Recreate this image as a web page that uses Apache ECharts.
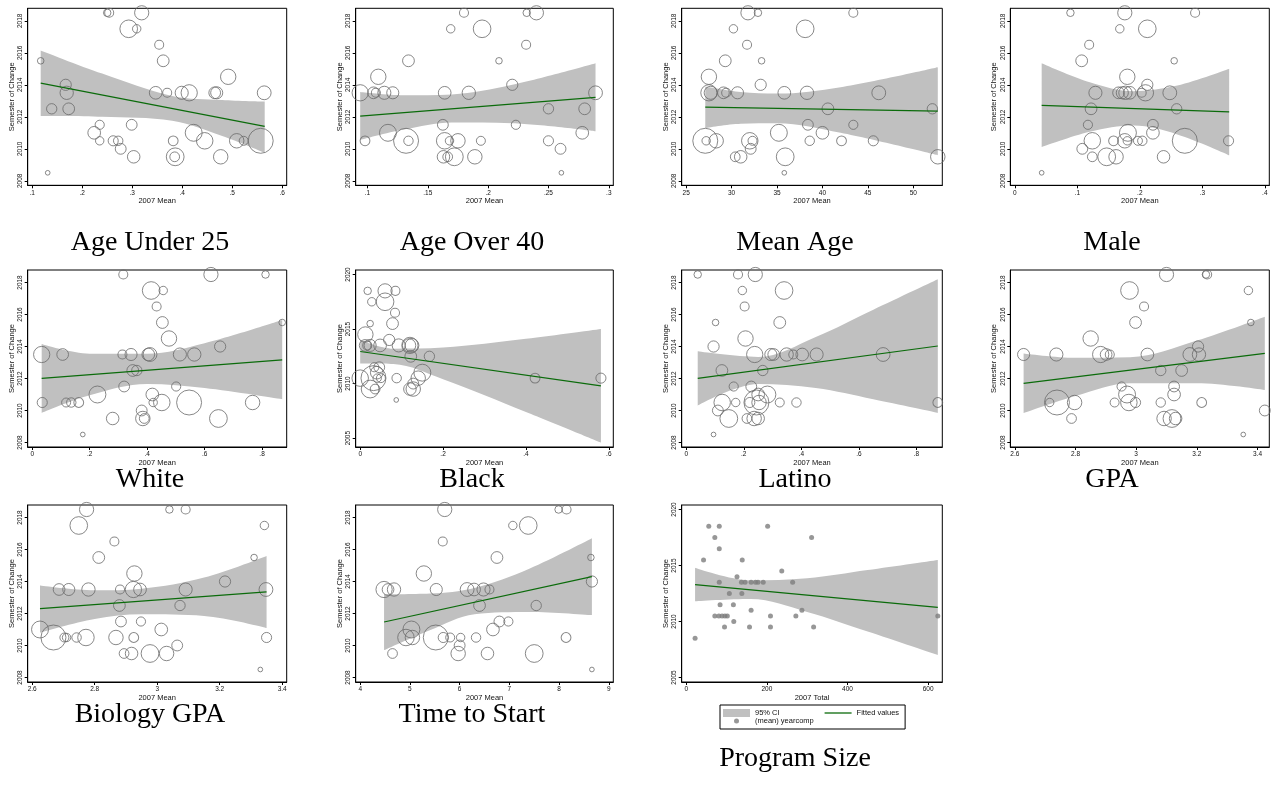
<!DOCTYPE html>
<html>
<head>
<meta charset="utf-8">
<title>Semester of Change</title>
<script src="https://cdn.jsdelivr.net/npm/echarts@6.0.0/dist/echarts.min.js"></script>
<style>
  html, body { margin: 0; padding: 0; background: #fff; }
  #chart { width: 1277px; height: 785px; }
</style>
</head>
<body>
<div id="chart"></div>
<script>
// one entry per program: semester of change and 2007 total (used as weight)
const yearcomp = [2018.5, 2018.5, 2018.5, 2017.5, 2017.5, 2016.5, 2015.5, 2015.5, 2014.5, 2014,
  2013.5, 2013.5, 2013.5, 2013.5, 2013.5, 2013.5, 2013.5, 2013.5, 2012.5, 2012.5,
  2011.5, 2011.5, 2011, 2011, 2010.5, 2010.5, 2010.5, 2010.5, 2010.5, 2010.5,
  2010.5, 2010.5, 2010, 2009.5, 2009.5, 2009.5, 2009.5, 2008.5];
const total = [56, 82, 202, 71, 311, 82, 43, 139, 237, 126,
  82, 137, 146, 161, 172, 178, 191, 264, 107, 138,
  84, 117, 161, 287, 71, 81, 89, 96, 102, 209,
  272, 624, 118, 95, 157, 209, 316, 22];

// 2007 means, same program order
const xAgeUnder25 = [0.250, 0.254, 0.319, 0.309, 0.293, 0.354, 0.117, 0.362, 0.492, 0.167,
  0.370, 0.465, 0.469, 0.347, 0.399, 0.169, 0.564, 0.414, 0.139, 0.173,
  0.235, 0.299, 0.224, 0.423, 0.235, 0.523, 0.272, 0.382, 0.262, 0.509,
  0.445, 0.557, 0.277, 0.385, 0.303, 0.477, 0.386, 0.131];
const xAgeOver40 = [0.232, 0.180, 0.240, 0.169, 0.195, 0.2315, 0.209, 0.134, 0.109, 0.220,
  0.107, 0.105, 0.121, 0.164, 0.114, 0.184, 0.289, 0.094, 0.250, 0.280,
  0.223, 0.1625, 0.278, 0.117, 0.168, 0.194, 0.134, 0.098, 0.250, 0.175,
  0.164, 0.132, 0.260, 0.1665, 0.163, 0.189, 0.172, 0.2607];
const xMeanAge = [32.9, 43.4, 31.8, 30.2, 38.1, 31.7, 33.3, 29.3, 27.5, 33.2,
  29.4, 29.1, 30.65, 35.8, 27.7, 38.3, 46.2, 27.5, 52.1, 40.6,
  43.4, 38.4, 40.0, 35.2, 27.2, 32.3, 38.6, 42.1, 45.6, 28.3,
  32.0, 27.1, 32.1, 30.4, 31.0, 52.7, 35.9, 35.8];
const xMale = [0.089, 0.2885, 0.176, 0.168, 0.212, 0.119, 0.255, 0.107, 0.180, 0.212,
  0.203, 0.166, 0.172, 0.184, 0.129, 0.177, 0.248, 0.209, 0.259, 0.122,
  0.117, 0.221, 0.221, 0.181, 0.180, 0.197, 0.204, 0.158, 0.342, 0.176,
  0.124, 0.272, 0.108, 0.124, 0.238, 0.162, 0.147, 0.043];
const xWhite = [0.812, 0.317, 0.622, 0.456, 0.414, 0.433, 0.870, 0.453, 0.476, 0.654,
  0.314, 0.106, 0.344, 0.404, 0.514, 0.564, 0.410, 0.033, 0.364, 0.350,
  0.501, 0.320, 0.418, 0.227, 0.421, 0.118, 0.136, 0.162, 0.035, 0.767,
  0.451, 0.546, 0.381, 0.390, 0.280, 0.385, 0.648, 0.176];
const xBlack = [0.018, 0.085, 0.060, 0.028, 0.060, 0.084, 0.024, 0.078, 0.0125, 0.070,
  0.017, 0.012, 0.024, 0.048, 0.093, 0.118, 0.125, 0.120, 0.167, 0.122,
  0.034, 0.046, 0.040, 0.150, 0.041, 0.050, 0.088, 0.422, 0.581, 0.140,
  0.0, 0.032, 0.128, 0.036, 0.120, 0.128, 0.024, 0.087];
const xLatino = [0.040, 0.180, 0.240, 0.195, 0.340, 0.203, 0.102, 0.325, 0.206, 0.095,
  0.372, 0.304, 0.294, 0.403, 0.453, 0.349, 0.684, 0.238, 0.266, 0.124,
  0.165, 0.226, 0.250, 0.282, 0.172, 0.325, 0.383, 0.874, 0.221, 0.253,
  0.125, 0.244, 0.110, 0.211, 0.250, 0.236, 0.148, 0.095];
const xGPA = [3.230, 3.234, 3.100, 3.370, 2.978, 3.026, 3.378, 2.998, 2.850, 3.204,
  2.913, 2.901, 2.629, 3.037, 2.737, 3.207, 3.177, 2.883, 3.081, 3.150,
  2.952, 3.125, 3.125, 2.970, 2.715, 2.929, 3.081, 3.216, 2.998, 2.797,
  2.976, 2.739, 3.424, 2.787, 3.130, 3.092, 3.118, 3.353];
const xBioGPA = [3.039, 3.091, 2.774, 3.343, 2.749, 2.863, 3.310, 2.813, 2.927, 3.217,
  2.881, 2.686, 2.717, 2.945, 3.091, 2.780, 3.348, 2.924, 3.073, 2.879,
  2.948, 2.884, 3.013, 2.625, 2.710, 2.703, 2.742, 2.925, 3.350, 2.868,
  2.772, 2.668, 3.064, 2.894, 2.918, 3.030, 2.977, 3.330];
const xTimeToStart = [7.99, 8.15, 5.70, 7.07, 7.38, 5.66, 8.64, 6.75, 5.28, 8.66,
  6.60, 4.56, 5.53, 6.29, 6.48, 4.68, 6.15, 4.48, 7.54, 6.40,
  6.98, 6.80, 6.67, 5.03, 6.02, 5.81, 6.33, 8.14, 5.67, 5.05,
  4.92, 5.52, 6.00, 4.65, 6.56, 5.97, 7.50, 8.66];

// 95% CI band, read at a few points: [x, lower, upper]
const ciAgeUnder25 = [[0.117, 2012.05, 2016.15], [0.24, 2012.0, 2014.7], [0.38, 2011.75, 2013.3], [0.48, 2010.8, 2013.05], [0.565, 2009.75, 2012.95]];
const ciAgeOver40 = [[0.094, 2010.55, 2013.55], [0.13, 2011.2, 2013.35], [0.17, 2011.65, 2013.4], [0.22, 2011.6, 2014.0], [0.289, 2011.1, 2015.35]];
const ciMeanAge = [[27.1, 2011.3, 2013.9], [31, 2011.57, 2013.55], [35, 2011.6, 2013.45], [42, 2011.0, 2013.85], [52.7, 2009.6, 2015.1]];
const ciMale = [[0.043, 2010.1, 2015.35], [0.12, 2011.06, 2014.16], [0.19, 2011.45, 2013.6], [0.26, 2010.9, 2013.95], [0.343, 2009.6, 2015.0]];
const ciWhite = [[0.033, 2009.85, 2014.15], [0.2, 2010.95, 2013.55], [0.4, 2011.65, 2013.55], [0.6, 2011.4, 2014.2], [0.87, 2010.7, 2015.65]];
const ciBlack = [[0, 2011.85, 2014.0], [0.08, 2011.8, 2013.2], [0.2, 2010.4, 2013.3], [0.4, 2007.4, 2014.1], [0.581, 2004.6, 2015.0]];
const ciLatino = [[0.04, 2010.3, 2013.7], [0.25, 2011.65, 2013.35], [0.45, 2011.4, 2014.6], [0.65, 2010.7, 2016.3], [0.874, 2009.85, 2018.2]];
const ciGPA = [[2.629, 2009.83, 2013.57], [2.8, 2010.9, 2013.3], [2.98, 2011.7, 2013.33], [3.2, 2011.7, 2014.37], [3.424, 2011.28, 2015.86]];
const ciBioGPA = [[2.625, 2010.8, 2013.75], [2.8, 2011.65, 2013.45], [2.95, 2011.95, 2013.55], [3.15, 2011.85, 2014.25], [3.35, 2011.1, 2015.6]];
const ciTimeToStart = [[4.48, 2009.7, 2013.2], [5.4, 2010.95, 2013.25], [6.3, 2011.95, 2013.6], [7.4, 2012.1, 2014.8], [8.66, 2011.9, 2016.7]];
const ciProgramSize = [[22, 2011.8, 2014.8], [160, 2012.0, 2013.68], [300, 2010.85, 2013.87], [450, 2009.1, 2014.6], [624, 2007.0, 2015.5]];

// fitted values, end points
const fitAgeUnder25 = [[0.117, 2014.1], [0.565, 2011.4]];
const fitAgeOver40 = [[0.094, 2012.04], [0.289, 2013.22]];
const fitMeanAge = [[27.1, 2012.6], [52.7, 2012.35]];
const fitMale = [[0.043, 2012.72], [0.343, 2012.31]];
const fitWhite = [[0.033, 2012.01], [0.87, 2013.16]];
const fitBlack = [[0, 2012.94], [0.581, 2009.79]];
const fitLatino = [[0.04, 2012.01], [0.874, 2014.03]];
const fitGPA = [[2.629, 2011.7], [3.424, 2013.57]];
const fitBioGPA = [[2.625, 2012.3], [3.35, 2013.35]];
const fitTimeToStart = [[4.48, 2011.47], [8.66, 2014.31]];
const fitProgramSize = [[22, 2013.3], [624, 2011.26]];

// tick labels
const ticksAgeUnder25 = [0.1, 0.2, 0.3, 0.4, 0.5, 0.6];
const ticksAgeOver40 = [0.1, 0.15, 0.2, 0.25, 0.3];
const ticksMeanAge = [25, 30, 35, 40, 45, 50];
const ticksMale = [0, 0.1, 0.2, 0.3, 0.4];
const ticksShare = [0, 0.2, 0.4, 0.6, 0.8];
const ticksBlack = [0, 0.2, 0.4, 0.6];
const ticksGPA = [2.6, 2.8, 3, 3.2, 3.4];
const ticksTime = [4, 5, 6, 7, 8, 9];
const ticksSize = [0, 200, 400, 600];
const ticksSemester = [2008, 2010, 2012, 2014, 2016, 2018];
const ticksSemesterWide = [2005, 2010, 2015, 2020];

const panels = [
  { title: 'Age Under 25', x: xAgeUnder25, ci: ciAgeUnder25, fit: fitAgeUnder25, xt: ticksAgeUnder25, yt: ticksSemester, col: 0, row: 0 },
  { title: 'Age Over 40', x: xAgeOver40, ci: ciAgeOver40, fit: fitAgeOver40, xt: ticksAgeOver40, yt: ticksSemester, col: 1, row: 0 },
  { title: 'Mean Age', x: xMeanAge, ci: ciMeanAge, fit: fitMeanAge, xt: ticksMeanAge, yt: ticksSemester, col: 2, row: 0 },
  { title: 'Male', x: xMale, ci: ciMale, fit: fitMale, xt: ticksMale, yt: ticksSemester, col: 3, row: 0 },
  { title: 'White', x: xWhite, ci: ciWhite, fit: fitWhite, xt: ticksShare, yt: ticksSemester, col: 0, row: 1 },
  { title: 'Black', x: xBlack, ci: ciBlack, fit: fitBlack, xt: ticksBlack, yt: ticksSemesterWide, col: 1, row: 1 },
  { title: 'Latino', x: xLatino, ci: ciLatino, fit: fitLatino, xt: ticksShare, yt: ticksSemester, col: 2, row: 1 },
  { title: 'GPA', x: xGPA, ci: ciGPA, fit: fitGPA, xt: ticksGPA, yt: ticksSemester, col: 3, row: 1 },
  { title: 'Biology GPA', x: xBioGPA, ci: ciBioGPA, fit: fitBioGPA, xt: ticksGPA, yt: ticksSemester, col: 0, row: 2 },
  { title: 'Time to Start', x: xTimeToStart, ci: ciTimeToStart, fit: fitTimeToStart, xt: ticksTime, yt: ticksSemester, col: 1, row: 2 },
  { title: 'Program Size', x: total, ci: ciProgramSize, fit: fitProgramSize, xt: ticksSize, yt: ticksSemesterWide, col: 2, row: 2, plain: true, xname: '2007 Total' }
];

// layout (px)
const colX = [27.7, 355.7, 681.7, 1010.3];
const colW = [259, 257.6, 260.6, 259];
const rowY = [8.3, 270, 505];
const boxH = 177;
const capX = [150, 472, 795, 1112];
const capY = [245, 482, 717];
const PAD = 4.5;

const sans = 'Liberation Sans, Arial, Helvetica, sans-serif';
const fmtX = v => String(+(+v).toFixed(4)).replace(/^0\./, '.');
const fmtY = v => String(v);

const grid = [], xAxis = [], yAxis = [], series = [], title = [];

panels.forEach((p, i) => {
  const L = colX[p.col], T = rowY[p.row], W = colW[p.col], H = boxH;
  const xlo = Math.min(p.xt[0], ...p.x, p.ci[0][0]);
  const xhi = Math.max(p.xt[p.xt.length - 1], ...p.x, p.ci[p.ci.length - 1][0]);
  const ylo = Math.min(p.yt[0], ...yearcomp, ...p.ci.map(d => d[1]));
  const yhi = Math.max(p.yt[p.yt.length - 1], ...yearcomp, ...p.ci.map(d => d[2]));
  const xp = PAD * (xhi - xlo) / (W - 2 * PAD);
  const yp = PAD * (yhi - ylo) / (H - 2 * PAD);

  grid.push({ left: L, top: T, width: W, height: H, show: true, borderColor: '#000', borderWidth: 1, backgroundColor: 'transparent' });

  xAxis.push({
    gridIndex: i, type: 'value', min: xlo - xp, max: xhi + xp,
    axisLine: { show: true, onZero: false, lineStyle: { color: '#000', width: 1 } },
    axisTick: { show: true, length: 3, customValues: p.xt, lineStyle: { color: '#000' } },
    axisLabel: { customValues: p.xt, formatter: fmtX, fontSize: 6.5, margin: 4, color: '#111', fontFamily: sans },
    splitLine: { show: false },
    name: p.xname || '2007 Mean', nameLocation: 'middle', nameGap: 12,
    nameTextStyle: { fontSize: 7.5, color: '#111', fontFamily: sans }
  });
  yAxis.push({
    gridIndex: i, type: 'value', min: ylo - yp, max: yhi + yp,
    axisLine: { show: true, onZero: false, lineStyle: { color: '#000', width: 1 } },
    axisTick: { show: true, length: 3, customValues: p.yt, lineStyle: { color: '#000' } },
    axisLabel: { customValues: p.yt, formatter: fmtY, rotate: 90, fontSize: 6.5, margin: 4, color: '#111', fontFamily: sans },
    splitLine: { show: false },
    name: 'Semester of Change', nameLocation: 'middle', nameGap: 12, nameRotate: 90,
    nameTextStyle: { fontSize: 7.5, color: '#111', fontFamily: sans }
  });

  const tag = p.plain ? '' : ' ' + i;
  // CI band: invisible lower bound, then the band height stacked on it
  // (values put first so the stack runs along y)
  series.push({
    type: 'line', name: 'lower' + i, xAxisIndex: i, yAxisIndex: i,
    data: p.ci.map(d => [d[1], d[0]]), encode: { x: 1, y: 0 }, stack: 'ci' + i,
    symbol: 'none', smooth: 0.35, lineStyle: { width: 0, opacity: 0 }, z: 1, silent: true
  });
  series.push({
    type: 'line', name: '95% CI' + tag, xAxisIndex: i, yAxisIndex: i,
    data: p.ci.map(d => [d[2] - d[1], d[0]]), encode: { x: 1, y: 0 }, stack: 'ci' + i,
    symbol: 'none', smooth: 0.35, lineStyle: { width: 0, opacity: 0 }, itemStyle: { color: '#c0c0c0' },
    areaStyle: { color: '#c0c0c0', opacity: 1 }, z: 1, silent: true
  });
  series.push({
    type: 'line', name: 'Fitted values' + tag, xAxisIndex: i, yAxisIndex: i,
    data: p.fit, symbol: 'none', lineStyle: { color: '#0b6b0b', width: 1.2 },
    itemStyle: { color: '#0b6b0b' }, z: 4, silent: true
  });
  series.push({
    type: 'scatter', name: '(mean) yearcomp' + tag, xAxisIndex: i, yAxisIndex: i,
    data: yearcomp.map((y, k) => [p.x[k], y, total[k]]),
    symbolSize: p.plain ? 5 : v => Math.sqrt(v[2]),
    itemStyle: p.plain ? { color: '#7d7d7d' } : { color: 'transparent', borderColor: '#6a6a6a', borderWidth: 1 },
    clip: false, z: 3, silent: true
  });

  title.push({
    text: p.title, left: capX[p.col], top: (p.title === 'Program Size' ? 761 : capY[p.row]) - 16,
    textAlign: 'center', padding: 0,
    textStyle: { fontFamily: 'Liberation Serif, serif', fontSize: 28, fontWeight: 'normal', color: '#000' }
  });
});

const chart = echarts.init(document.getElementById('chart'));
chart.setOption({
  backgroundColor: '#fff',
  animation: false,
  title: title,
  grid: grid,
  xAxis: xAxis,
  yAxis: yAxis,
  legend: [
    {
      left: 720, top: 705, orient: 'horizontal', itemWidth: 27, itemHeight: 8, itemGap: 45,
      padding: [4, 6, 12, 3], borderColor: '#000', borderWidth: 1, selectedMode: false,
      textStyle: { fontSize: 7.5, color: '#111', fontFamily: sans },
      data: [
        { name: '95% CI', icon: 'rect', itemStyle: { color: '#c0c0c0' } },
        { name: 'Fitted values', icon: 'path://M0,0H27V1.3H0Z', itemStyle: { color: '#0b6b0b' } }
      ]
    },
    {
      left: 723, top: 717, itemWidth: 27, itemHeight: 5, padding: 0, selectedMode: false,
      textStyle: { fontSize: 7.5, color: '#111', fontFamily: sans },
      data: [{ name: '(mean) yearcomp', icon: 'path://M0,2.5L0,2.5M27,2.5L27,2.5M16,2.5A2.5,2.5,0,1,1,11,2.5A2.5,2.5,0,1,1,16,2.5Z', itemStyle: { color: '#7d7d7d' } }]
    }
  ],
  series: series
});
</script>
</body>
</html>
